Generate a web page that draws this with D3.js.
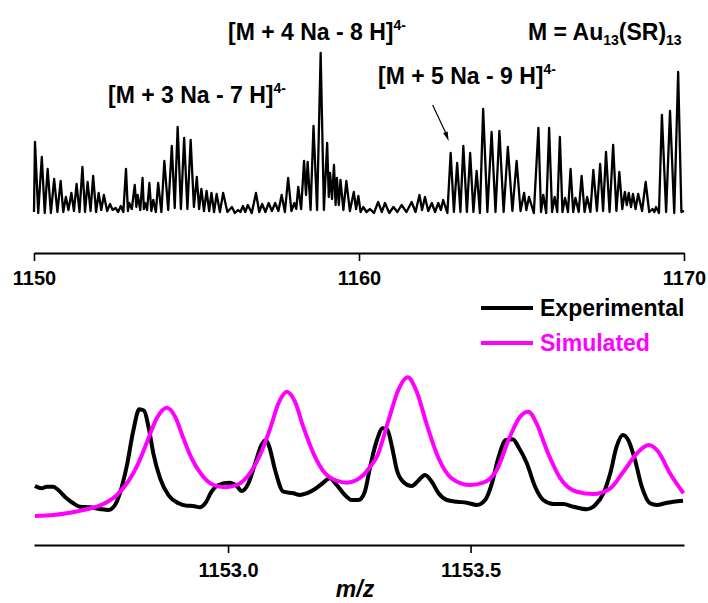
<!DOCTYPE html>
<html>
<head>
<meta charset="utf-8">
<script src="https://cdn.jsdelivr.net/npm/d3@7"></script>
<style>
  body { margin: 0; background: #fff; }
  text { font-family: "Liberation Sans", Arial, sans-serif; font-weight: bold; }
</style>
</head>
<body>
<svg id="chart" width="708" height="603"></svg>
<script>
// full scan, [m/z, intensity]
var scanPoints = [
  [1150.00,3],[1150.03,73],[1150.13,2],[1150.24,58],[1150.33,2],[1150.42,46],[1150.52,2],[1150.62,36],[1150.72,3],[1150.82,34],
  [1150.90,3],[1150.98,18],[1151.06,5],[1151.15,22],[1151.23,4],[1151.31,31],[1151.40,3],[1151.49,48],[1151.57,3],[1151.65,33],
  [1151.74,4],[1151.82,39],[1151.91,3],[1151.99,22],[1152.07,5],[1152.15,20],[1152.25,4],[1152.34,11],[1152.42,5],[1152.51,7],
  [1152.59,3],[1152.67,9],[1152.75,3],[1152.83,46],[1152.89,4],[1152.93,12],[1153.01,6],[1153.10,30],[1153.15,8],[1153.19,20],
  [1153.27,5],[1153.34,37],[1153.38,6],[1153.42,12],[1153.48,5],[1153.55,32],[1153.61,4],[1153.67,15],[1153.75,3],[1153.82,32],
  [1153.92,3],[1154.01,54],[1154.13,5],[1154.24,69],[1154.33,7],[1154.42,88],[1154.52,6],[1154.62,77],[1154.72,6],[1154.82,75],
  [1154.92,8],[1155.01,38],[1155.08,6],[1155.15,26],[1155.23,4],[1155.31,24],[1155.39,4],[1155.46,22],[1155.54,3],[1155.62,21],
  [1155.72,3],[1155.82,22],[1155.95,3],[1156.09,8],[1156.18,2],[1156.28,5],[1156.35,3],[1156.43,9],[1156.50,3],[1156.58,10],
  [1156.70,2],[1156.83,22],[1156.93,3],[1157.02,11],[1157.12,3],[1157.22,12],[1157.32,4],[1157.42,12],[1157.52,4],[1157.62,20],
  [1157.72,3],[1157.82,37],[1157.92,4],[1158.01,12],[1158.07,6],[1158.13,28],[1158.22,6],[1158.31,54],[1158.37,20],[1158.42,53],
  [1158.51,5],[1158.60,89],[1158.71,5],[1158.82,162],[1158.92,5],[1159.02,72],[1159.07,18],[1159.11,42],[1159.17,16],[1159.23,50],
  [1159.28,10],[1159.32,37],[1159.38,10],[1159.43,35],[1159.52,5],[1159.61,34],[1159.72,4],[1159.84,23],[1159.91,6],[1159.98,19],
  [1160.05,3],[1160.13,8],[1160.23,3],[1160.34,6],[1160.46,2],[1160.59,13],[1160.70,3],[1160.80,12],[1160.93,2],[1161.06,8],
  [1161.18,3],[1161.31,10],[1161.46,3],[1161.62,13],[1161.74,3],[1161.86,20],[1161.94,5],[1162.03,18],[1162.13,4],[1162.24,12],
  [1162.34,3],[1162.44,12],[1162.52,5],[1162.59,15],[1162.72,2],[1162.82,62],[1162.92,3],[1163.02,52],[1163.12,3],[1163.21,69],
  [1163.32,3],[1163.42,62],[1163.52,3],[1163.62,44],[1163.72,2],[1163.82,106],[1163.95,3],[1164.08,83],[1164.20,3],[1164.32,84],
  [1164.45,3],[1164.58,68],[1164.72,4],[1164.85,54],[1164.97,4],[1165.08,22],[1165.15,5],[1165.23,18],[1165.38,2],[1165.52,87],
  [1165.60,3],[1165.67,20],[1165.76,2],[1165.85,87],[1165.94,3],[1166.02,18],[1166.10,3],[1166.18,78],[1166.26,3],[1166.34,17],
  [1166.43,3],[1166.51,46],[1166.59,3],[1166.66,17],[1166.76,3],[1166.85,39],[1166.94,3],[1167.02,18],[1167.12,3],[1167.21,45],
  [1167.32,4],[1167.42,51],[1167.51,4],[1167.60,63],[1167.71,3],[1167.82,70],[1167.92,4],[1168.01,43],[1168.10,6],[1168.18,23],
  [1168.24,10],[1168.30,22],[1168.37,8],[1168.43,21],[1168.51,6],[1168.59,21],[1168.71,4],[1168.82,33],[1168.93,3],[1169.03,6],
  [1169.09,3],[1169.14,8],[1169.23,2],[1169.32,100],[1169.45,3],[1169.57,104],[1169.70,2],[1169.82,143],[1169.92,3],[1170.00,4]
];

// zoomed isotope pattern
var experimental = [
  [1152.602,34],[1152.616,31.7],[1152.626,33.3],[1152.640,33.3],[1152.650,30],[1152.667,21.7],[1152.681,16.7],[1152.695,13.3],
  [1152.715,12.7],[1152.736,11],[1152.753,10],[1152.767,15],[1152.777,26.7],[1152.791,53.3],[1152.805,90],[1152.817,110.7],
  [1152.827,109.3],[1152.836,93.3],[1152.846,66.7],[1152.860,41.7],[1152.877,25],[1152.898,16.7],[1152.915,14.3],[1152.928,14],
  [1152.942,12.7],[1152.953,16.7],[1152.966,28.3],[1152.980,35],[1153.003,37.3],[1153.018,34],[1153.028,29],[1153.042,36.7],
  [1153.056,56.7],[1153.069,75],[1153.078,80],[1153.085,73.3],[1153.097,50],[1153.114,28.3],[1153.135,26.7],[1153.148,25],
  [1153.162,26.7],[1153.176,30],[1153.193,36],[1153.210,41.7],[1153.224,35],[1153.241,25],[1153.255,20],[1153.269,20],
  [1153.282,28.3],[1153.293,53.3],[1153.307,80],[1153.319,91.7],[1153.328,90.7],[1153.338,73.3],[1153.348,50],[1153.361,38.3],
  [1153.379,34],[1153.392,39.3],[1153.406,45],[1153.420,38.3],[1153.434,26.7],[1153.451,20],[1153.472,18.3],[1153.492,17.3],
  [1153.513,15],[1153.530,20],[1153.544,36.7],[1153.557,61.7],[1153.573,80],[1153.587,80.7],[1153.599,72.7],[1153.616,56.7],
  [1153.633,33.3],[1153.650,20],[1153.671,16],[1153.691,16],[1153.712,13.3],[1153.740,10.7],[1153.757,15],[1153.774,26.7],
  [1153.788,46.7],[1153.801,73.3],[1153.814,85],[1153.825,80],[1153.839,60],[1153.853,33.3],[1153.870,16.7],[1153.884,15],
  [1153.901,16.7],[1153.918,18.3],[1153.938,19.3]
];

var simulated = [
  [1152.602,4],[1152.640,5],[1152.674,7.3],[1152.709,10.7],[1152.743,16],[1152.771,25],[1152.794,38.3],[1152.815,56.7],
  [1152.836,81.7],[1152.853,101.7],[1152.874,112.3],[1152.891,103.3],[1152.908,81.7],[1152.925,61.7],[1152.946,45],[1152.970,35],
  [1152.994,32.7],[1153.018,35],[1153.045,46.7],[1153.066,65],[1153.087,91.7],[1153.104,116.7],[1153.121,128.3],[1153.138,118.3],
  [1153.155,93.3],[1153.176,66.7],[1153.200,46.7],[1153.224,39.3],[1153.245,37.3],[1153.265,40],[1153.279,45],[1153.293,53.3],
  [1153.307,63.3],[1153.331,100],[1153.351,130],[1153.370,142.7],[1153.389,128.3],[1153.410,95],[1153.434,61.7],[1153.461,41.7],
  [1153.499,35],[1153.526,37.3],[1153.554,50],[1153.581,83.3],[1153.602,103.3],[1153.619,108.3],[1153.636,96.7],[1153.657,70],
  [1153.685,41.7],[1153.719,28.3],[1153.753,26],[1153.788,31.7],[1153.815,48.3],[1153.843,66.7],[1153.867,75],[1153.887,68.3],
  [1153.911,46.7],[1153.939,26.7]
];

var scanMajorTicks = [1150, 1160, 1170];
var scanMinorTicks = [1155, 1165];
var zoomMajorTicks = [1153.0, 1153.5];
var zoomMinorTicks = [1152.75, 1153.25, 1153.75];
var seriesNames = ["Experimental", "Simulated"];
var seriesColors = ["#000000", "#ff00ff"];

var svg = d3.select("#chart");

// ---- top panel ----
var xScan = d3.scaleLinear().domain([1150, 1170]).range([34, 684]);
var yScan = d3.scaleLinear().domain([0, 165]).range([215, 50]);

var scanLine = d3.line()
    .x(function(d) { return xScan(d[0]); })
    .y(function(d) { return yScan(d[1]); });

svg.append("path")
    .datum(scanPoints)
    .attr("d", scanLine)
    .attr("fill", "none")
    .attr("stroke", "#000")
    .attr("stroke-width", 2.3)
    .attr("stroke-linejoin", "round");

function drawAxis(scale, y, major, minor, fmt) {
    var g = svg.append("g").attr("transform", "translate(0," + y + ")");
    g.call(d3.axisBottom(scale).tickValues(minor).tickSize(5).tickSizeOuter(0).tickFormat(""));
    g.call(d3.axisBottom(scale).tickValues(major).tickSize(8).tickSizeOuter(0).tickFormat(fmt));
    g.attr("font-family", null).attr("font-size", null);
    g.selectAll("path.domain").attr("stroke-width", 2);
    g.selectAll(".tick line").attr("stroke-width", 1.6);
    g.selectAll(".tick text").attr("font-size", 20).attr("dy", "1.05em").attr("fill", "#000");
    return g;
}

drawAxis(xScan, 253, scanMajorTicks, scanMinorTicks, d3.format("d"));

// labels
function ionLabel(x, y, parts) {
    var t = svg.append("text").attr("x", x).attr("y", y).attr("font-size", 23);
    parts.forEach(function(p) {
        t.append("tspan").text(p[0])
            .attr("font-size", p[1] || 23)
            .attr("dy", p[2] || 0);
    });
}
ionLabel(228, 40, [["[M + 4 Na - 8 H]"], ["4-", 14, -10]]);
ionLabel(108, 103, [["[M + 3 Na - 7 H]"], ["4-", 14, -10]]);
ionLabel(378, 84, [["[M + 5 Na - 9 H]"], ["4-", 14, -10]]);
ionLabel(528, 40, [["M = Au"], ["13", 14, 5], ["(SR)", 23, -5], ["13", 14, 5]]);

// arrow to the first [M + 5 Na - 9 H] peak
var ax = xScan(1162.82), ay = yScan(62);
svg.append("line")
    .attr("x1", ax - 18).attr("y1", ay - 48)
    .attr("x2", ax - 3).attr("y2", ay - 16)
    .attr("stroke", "#000").attr("stroke-width", 1.2);
svg.append("path")
    .attr("d", d3.line()([[ax - 2, ay - 12], [ax - 7.5, ay - 20], [ax - 3, ay - 21.5]]) + "Z")
    .attr("fill", "#000");

// ---- bottom panel ----
var xZoom = d3.scaleLinear().domain([1152.6, 1153.94]).range([34, 684]);
var yZoom = d3.scaleLinear().domain([0, 150]).range([520, 370]);

var zoomLine = d3.line()
    .x(function(d) { return xZoom(d[0]); })
    .y(function(d) { return yZoom(d[1]); })
    .curve(d3.curveMonotoneX);

[experimental, simulated].forEach(function(series, i) {
    svg.append("path")
        .datum(series)
        .attr("d", zoomLine)
        .attr("fill", "none")
        .attr("stroke", seriesColors[i])
        .attr("stroke-width", 4)
        .attr("stroke-linejoin", "round");
});

drawAxis(xZoom, 545, zoomMajorTicks, zoomMinorTicks, d3.format(".1f"));

svg.append("text")
    .attr("x", 355).attr("y", 597)
    .attr("text-anchor", "middle")
    .attr("font-size", 23)
    .attr("font-style", "italic")
    .text("m/z");

// legend
var legend = svg.append("g").attr("transform", "translate(481,308)");
seriesNames.forEach(function(name, i) {
    var row = legend.append("g").attr("transform", "translate(0," + (i * 35) + ")");
    row.append("line")
        .attr("x1", 0).attr("x2", 52)
        .attr("stroke", seriesColors[i]).attr("stroke-width", 4);
    row.append("text")
        .attr("x", 59).attr("y", 8)
        .attr("font-size", 23)
        .attr("fill", seriesColors[i])
        .text(name);
});
</script>
</body>
</html>
